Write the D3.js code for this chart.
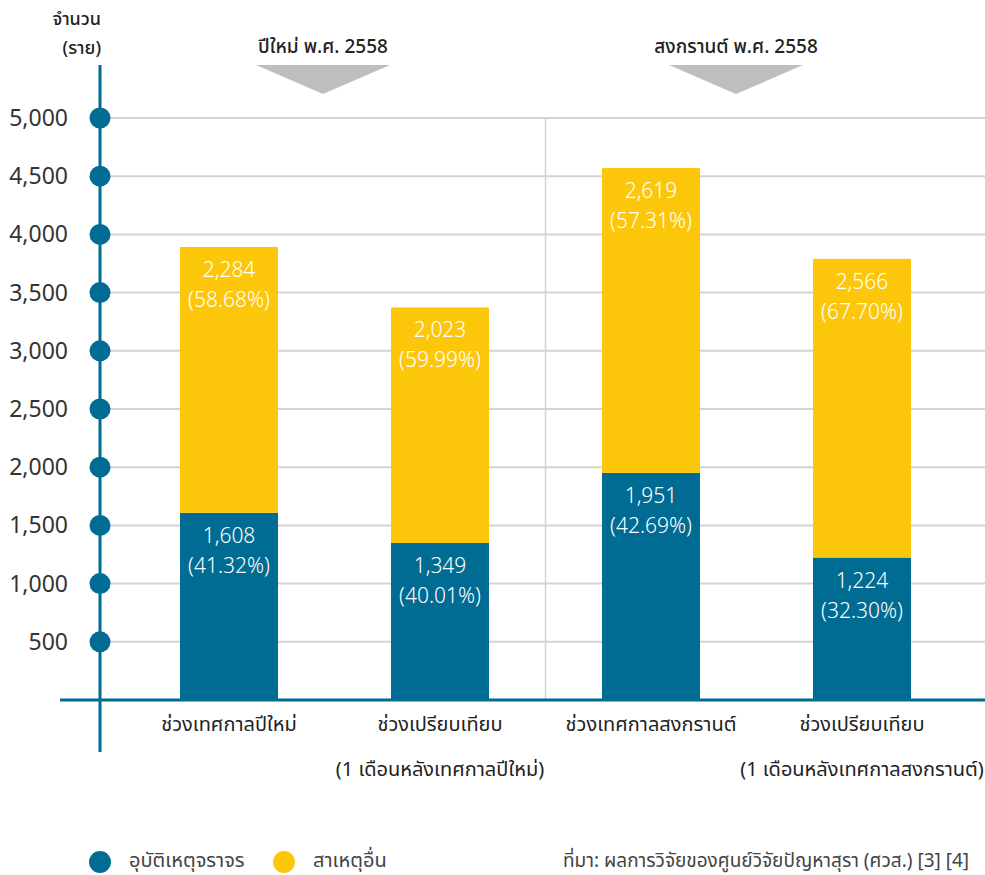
<!DOCTYPE html>
<html lang="th">
<head>
<meta charset="UTF-8">
<title>อุบัติเหตุจราจร</title>
<script src="https://d3js.org/d3.v7.min.js"></script>
<style>
  body { margin: 0; background: #fff; }
  text { font-family: "Noto Sans Thai", "Noto Sans", "DejaVu Sans", sans-serif; }
</style>
</head>
<body>
<script>
// data
var categoryLine1 = ["ช่วงเทศกาลปีใหม่", "ช่วงเปรียบเทียบ", "ช่วงเทศกาลสงกรานต์", "ช่วงเปรียบเทียบ"];
var categoryLine2 = ["", "(1 เดือนหลังเทศกาลปีใหม่)", "", "(1 เดือนหลังเทศกาลสงกรานต์)"];
var trafficAccidents = [1608, 1349, 1951, 1224];
var otherCauses = [2284, 2023, 2619, 2566];
var yTicks = [500, 1000, 1500, 2000, 2500, 3000, 3500, 4000, 4500, 5000];
var groupLabels = ["ปีใหม่ พ.ศ. 2558", "สงกรานต์ พ.ศ. 2558"];
var seriesNames = ["อุบัติเหตุจราจร", "สาเหตุอื่น"];

var blue = "#006c93", yellow = "#fcc70b", grid = "#d3d3d3";
var width = 985, height = 875;

var svg = d3.select("body").append("svg")
    .attr("width", width)
    .attr("height", height);

var y = d3.scaleLinear().domain([0, 5000]).range([700, 118]);
var x = d3.scaleBand()
    .domain(d3.range(categoryLine1.length))
    .range([123.5, 967.5])
    .paddingInner(0.5355)
    .paddingOuter(0.2678);

// gridlines
svg.selectAll("line.grid")
    .data(yTicks)
    .enter().append("line")
    .attr("x1", 100).attr("x2", width)
    .attr("y1", function (d) { return y(d); })
    .attr("y2", function (d) { return y(d); })
    .attr("stroke", grid).attr("stroke-width", 2);

// separator between the two festivals
var sepX = (x(1) + x.bandwidth() + x(2)) / 2;
svg.append("line")
    .attr("x1", sepX).attr("x2", sepX)
    .attr("y1", y(5000)).attr("y2", y(0))
    .attr("stroke", grid).attr("stroke-width", 1.5);

// stacked bars
var rows = trafficAccidents.map(function (v, i) {
    return { i: i, a: v, b: otherCauses[i], total: v + otherCauses[i] };
});

svg.selectAll("rect.blue")
    .data(rows)
    .enter().append("rect")
    .attr("x", function (d) { return x(d.i); })
    .attr("width", x.bandwidth())
    .attr("y", function (d) { return y(d.a); })
    .attr("height", function (d) { return y(0) - y(d.a); })
    .attr("fill", blue);

svg.selectAll("rect.yellow")
    .data(rows)
    .enter().append("rect")
    .attr("x", function (d) { return x(d.i); })
    .attr("width", x.bandwidth())
    .attr("y", function (d) { return y(d.total); })
    .attr("height", function (d) { return y(d.a) - y(d.total); })
    .attr("fill", yellow);

var fmt = d3.format(",");
function pct(v, t) { return "(" + (v / t * 100).toFixed(2) + "%)"; }

var labels = [];
rows.forEach(function (d) {
    labels.push({ i: d.i, top: y(d.total), l1: fmt(d.b), l2: pct(d.b, d.total) });
    labels.push({ i: d.i, top: y(d.a), l1: fmt(d.a), l2: pct(d.a, d.total) });
});

var lg = svg.selectAll("g.lab")
    .data(labels)
    .enter().append("g")
    .attr("transform", function (d) { return "translate(" + (x(d.i) + x.bandwidth() / 2) + "," + d.top + ")"; });
lg.append("text").attr("y", 30).text(function (d) { return d.l1; });
lg.append("text").attr("y", 60).text(function (d) { return d.l2; });
lg.selectAll("text")
    .attr("text-anchor", "middle")
    .attr("fill", "#fff")
    .attr("font-size", "21px")
    .attr("font-weight", 300);

// baseline and y axis
svg.append("line")
    .attr("x1", 60).attr("x2", width)
    .attr("y1", y(0)).attr("y2", y(0))
    .attr("stroke", blue).attr("stroke-width", 3);
svg.append("line")
    .attr("x1", 100).attr("x2", 100)
    .attr("y1", 65).attr("y2", 752)
    .attr("stroke", blue).attr("stroke-width", 3);

svg.selectAll("circle.tick")
    .data(yTicks)
    .enter().append("circle")
    .attr("cx", 100)
    .attr("cy", function (d) { return y(d); })
    .attr("r", 10.5)
    .attr("fill", blue);

svg.selectAll("text.tick")
    .data(yTicks)
    .enter().append("text")
    .attr("x", 68)
    .attr("y", function (d) { return y(d) + 8; })
    .attr("text-anchor", "end")
    .attr("font-size", "23px")
    .attr("fill", "#333")
    .text(function (d) { return fmt(d); });

svg.append("text").attr("x", 101).attr("y", 25)
    .attr("text-anchor", "end").attr("font-size", "18px").attr("font-weight", 500)
    .attr("fill", "#222").text("จำนวน");
svg.append("text").attr("x", 101).attr("y", 54)
    .attr("text-anchor", "end").attr("font-size", "18px").attr("font-weight", 500)
    .attr("fill", "#222").text("(ราย)");

// group headers with arrows
var headerX = [323, 736];
headerX.forEach(function (cx, k) {
    svg.append("text")
        .attr("x", cx).attr("y", 53)
        .attr("text-anchor", "middle")
        .attr("font-size", "19px")
        .attr("font-weight", 500)
        .attr("fill", "#222")
        .text(groupLabels[k]);
    svg.append("path")
        .attr("d", "M" + (cx - 67) + ",65 L" + (cx + 67) + ",65 L" + cx + ",94 Z")
        .attr("fill", "#bcbec0");
});

// category labels
svg.selectAll("text.cat1")
    .data(categoryLine1)
    .enter().append("text")
    .attr("x", function (d, i) { return x(i) + x.bandwidth() / 2; })
    .attr("y", 731)
    .attr("text-anchor", "middle")
    .attr("font-size", "20px")
    .attr("fill", "#222")
    .text(function (d) { return d; });
svg.selectAll("text.cat2")
    .data(categoryLine2)
    .enter().append("text")
    .attr("x", function (d, i) { return x(i) + x.bandwidth() / 2; })
    .attr("y", 776)
    .attr("text-anchor", "middle")
    .attr("font-size", "20px")
    .attr("fill", "#222")
    .text(function (d) { return d; });

// legend
var legX = [100, 284];
seriesNames.forEach(function (name, k) {
    svg.append("circle")
        .attr("cx", legX[k]).attr("cy", 862).attr("r", 11)
        .attr("fill", k === 0 ? blue : yellow);
    svg.append("text")
        .attr("x", legX[k] + 29).attr("y", 867)
        .attr("font-size", "20px").attr("fill", "#444")
        .text(name);
});

svg.append("text")
    .attr("x", 563).attr("y", 867)
    .attr("font-size", "19px").attr("fill", "#444")
    .text("ที่มา: ผลการวิจัยของศูนย์วิจัยปัญหาสุรา (ศวส.) [3] [4]");
</script>
</body>
</html>
